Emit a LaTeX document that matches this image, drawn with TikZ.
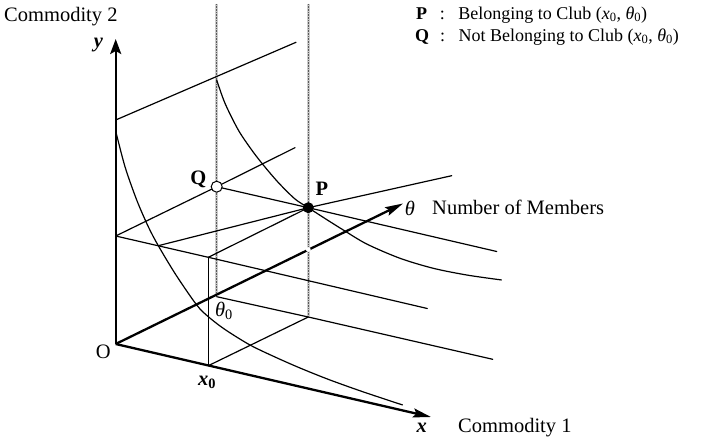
\documentclass[tikz,border=0pt]{standalone}
\usepackage{fontspec}
\setmainfont{Liberation Serif}
\usetikzlibrary{arrows.meta}
\newcommand{\xo}{\textbf{\textit{x}}\textsubscript{\textbf{0}}}
\newcommand{\tho}{\textit{θ}\textsubscript{0}}
\begin{document}
\begin{tikzpicture}[x=1pt,y=-1pt,
  thinline/.style={line width=1.2pt, line cap=round},
  axisline/.style={line width=2.3pt, -{Stealth[length=18pt,width=9pt,inset=3pt]}},
  yaxisline/.style={line width=2.3pt, -{Stealth[length=15pt,width=11pt,inset=3pt]}},
  dotbase/.style={draw=gray!40, line width=3pt},
  dotline/.style={draw=black!65, line width=1.5pt, dash pattern=on 0.8pt off 0.8pt},
  lbl/.style={font=\fontsize{20.5}{24}\selectfont, inner sep=0pt},
  leg/.style={font=\fontsize{18}{21}\selectfont, inner sep=0pt, anchor=west},
  curveline/.style={line width=1.2pt}
]
\useasboundingbox (0,0) rectangle (708,443);

% key points
\coordinate (O) at (115.7,344);
\coordinate (Ytip) at (115.7,39);
\coordinate (Xtip) at (431,417);
\coordinate (Ttip) at (403,203.5);
\coordinate (X0) at (208.3,365.7);
\coordinate (T0) at (216.7,296.7);
\coordinate (XT) at (308.3,317);
\coordinate (A) at (115.7,236);
\coordinate (AX) at (208.3,257.3);
\coordinate (Q) at (216.7,186.7);
\coordinate (P) at (308.3,207.7);
\coordinate (T1) at (115.7,120);
\coordinate (T2) at (296,42.3);
\coordinate (AQe) at (295,147.7);
\coordinate (QPe) at (496.7,251.5);
\coordinate (AXe) at (427.3,308.5);
\coordinate (T0e) at (492.7,359.3);
\coordinate (L7s) at (158.3,245.7);
\coordinate (L7e) at (451.7,175.7);
\coordinate (D1t) at (216.7,4);
\coordinate (D1b) at (216.7,294);
\coordinate (D2t) at (308.3,4);
\coordinate (D2b) at (308.3,316);

% dotted verticals
\draw[dotbase] (D1t) -- (D1b);
\draw[dotbase] (D2t) -- (D2b);
\draw[dotline] (D1t) -- (D1b);
\draw[dotline] (D2t) -- (D2b);

% thin lines
\draw[thinline] (T1) -- (T2);
\draw[thinline] (A) -- (Q) -- (AQe);
\draw[thinline] (Q) -- (P) -- (QPe);
\draw[thinline] (A) -- (AX) -- (AXe);
\draw[thinline] (AX) -- (P);
\draw[thinline] (L7s) -- (P) -- (L7e);
\draw[thinline] (X0) -- (AX);
\draw[thinline] (X0) -- (XT);
\draw[thinline] (T0) -- (XT) -- (T0e);

% curves
\draw[curveline] plot[smooth] coordinates {(115.7,131) (125,166.7) (136.7,200) (148.3,226.7) (158.3,245.7) (176,275) (196.7,305) (208.3,316.7) (225,329.5) (250,345) (275,357) (300,368) (330,380) (365,392.5) (402.7,405)};
\draw[curveline] plot[smooth] coordinates {(216.7,80) (225,103.3) (238.3,130) (251.7,150) (263.3,165) (278.3,182.5) (295,199) (308.3,207.7) (325,218.5) (343.3,230) (366.7,244) (400,258.3) (433.3,268.3) (466.7,275) (501.7,280)};

% axes
\draw[yaxisline] (O) -- (Ytip);
\draw[axisline] (O) -- (Xtip);
\draw[axisline] (O) -- (Ttip);
\fill[white] (308.3,249.5) circle (2.4);

% points
\node[circle, fill=black, minimum size=11pt, inner sep=0pt] (Pdot) at (P) {};
\node[circle, draw=black, fill=white, line width=1pt, minimum size=11pt, inner sep=0pt] (Qdot) at (Q) {};

% labels
\node[lbl, anchor=west] (c2) at (4,17) {Commodity 2};
\node[lbl] (ylab) at (98.5,45) {\textbf{\textit{y}}};
\node[lbl] (Qlab) at (198.3,179) {\textbf{Q}};
\node[lbl] (Plab) at (322,189) {\textbf{P}};
\node[lbl] (thlab) at (410,208) {\textit{θ}};
\node[lbl, anchor=west] (nom) at (432,207) {Number of Members};
\node[lbl] (th0lab) at (224,311) {\tho};
\node[lbl] (Olab) at (103.3,351.7) {O};
\node[lbl] (x0lab) at (207,382) {\xo};
\node[lbl] (xlab) at (421.7,428) {\textbf{\textit{x}}};
\node[lbl, anchor=west] (c1) at (458,428) {Commodity 1};
\node[leg] (legP) at (416,15) {\textbf{P}\hspace{0.7em}:\hspace{0.75em}Belonging to Club (\textit{x}\textsubscript{0}, \tho)};
\node[leg] (legQ) at (415,37) {\textbf{Q}\hspace{0.6em}:\hspace{0.75em}Not Belonging to Club (\textit{x}\textsubscript{0}, \tho)};
\end{tikzpicture}
\end{document}
